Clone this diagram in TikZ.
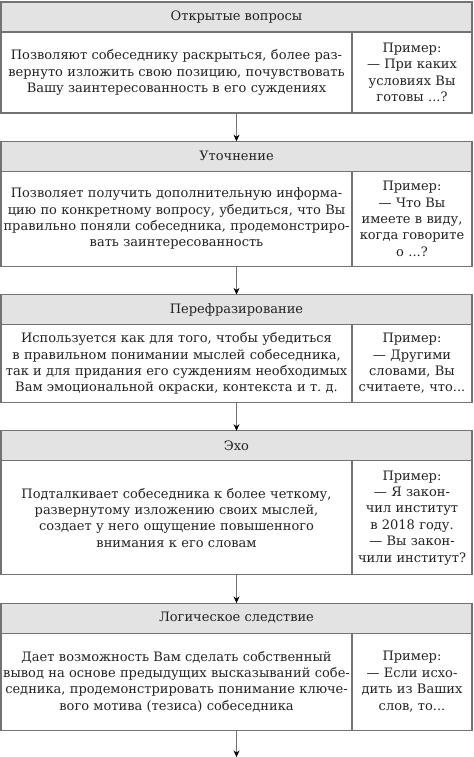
\documentclass[tikz,border=0pt]{standalone}
\usepackage{fontspec}
\setmainfont{DejaVu Serif}
\usetikzlibrary{positioning}
\usetikzlibrary{arrows.meta}
\frenchspacing

\definecolor{hdrgray}{RGB}{227,227,227}
\definecolor{linegray}{RGB}{115,115,115}
\definecolor{txtgray}{RGB}{35,35,35}

\tikzset{
  hdr/.style={draw=linegray,fill=hdrgray,line width=0.8pt,minimum width=353.25pt,minimum height=22.5pt,inner sep=0pt,outer sep=0pt,text=txtgray,font=\fontsize{9.75}{12.3}\selectfont},
  txt/.style={draw=linegray,line width=0.8pt,text width=263.25pt,inner sep=0pt,outer sep=0pt,align=center,text=txtgray,font=\fontsize{9.75}{12.3}\selectfont},
  ex/.style={draw=linegray,line width=0.8pt,text width=90pt,inner sep=0pt,outer sep=0pt,align=center,text=txtgray,font=\fontsize{9.75}{12.3}\selectfont},
  arr/.style={draw=linegray,line width=0.6pt,-{Stealth[length=5pt,width=4.5pt,black]}}
}

\begin{document}
\begin{tikzpicture}
\useasboundingbox[fill=white] (0,0) rectangle (355.5pt,-567.75pt);

\node[hdr,anchor=north west] (hdr1) at (0.75pt,-1.5pt) {Открытые вопросы};
\node[txt,minimum height=60.75pt,below right=0pt and 0pt of hdr1.south west] (txt1) {Позволяют собеседнику раскрыться, более раз-\\вернуто изложить свою позицию, почувствовать\\Вашу заинтересованность в его суждениях};
\node[ex,minimum height=60.75pt,right=0pt of txt1] (ex1) {Пример:\\— При каких\\условиях Вы\\готовы ...?};

\node[hdr,below right=21.2pt and 0pt of txt1.south west] (hdr2) {Уточнение};
\node[txt,minimum height=71.25pt,below right=0pt and 0pt of hdr2.south west] (txt2) {Позволяет получить дополнительную информа-\\цию по конкретному вопросу, убедиться, что Вы\\правильно поняли собеседника, продемонстриро-\\вать заинтересованность};
\node[ex,minimum height=71.25pt,right=0pt of txt2] (ex2) {Пример:\\— Что Вы\\имеете в виду,\\когда говорите\\о ...?};

\node[hdr,below right=21.2pt and 0pt of txt2.south west] (hdr3) {Перефразирование};
\node[txt,minimum height=58.5pt,below right=0pt and 0pt of hdr3.south west] (txt3) {Используется как для того, чтобы убедиться\\в правильном понимании мыслей собеседника,\\так и для придания его суждениям необходимых\\Вам эмоциональной окраски, контекста и т. д.};
\node[ex,minimum height=58.5pt,right=0pt of txt3] (ex3) {Пример:\\— Другими\\словами, Вы\\считаете, что...};

\node[hdr,below right=21.2pt and 0pt of txt3.south west] (hdr4) {Эхо};
\node[txt,minimum height=85.5pt,below right=0pt and 0pt of hdr4.south west] (txt4) {Подталкивает собеседника к более четкому,\\развернутому изложению своих мыслей,\\создает у него ощущение повышенного\\внимания к его словам};
\node[ex,minimum height=85.5pt,right=0pt of txt4] (ex4) {Пример:\\— Я закон-\\чил институт\\в 2018 году.\\— Вы закон-\\чили институт?};

\node[hdr,below right=21.2pt and 0pt of txt4.south west] (hdr5) {Логическое следствие};
\node[txt,minimum height=72.75pt,below right=0pt and 0pt of hdr5.south west] (txt5) {Дает возможность Вам сделать собственный\\вывод на основе предыдущих высказываний собе-\\седника, продемонстрировать понимание ключе-\\вого мотива (тезиса) собеседника};
\node[ex,minimum height=72.75pt,right=0pt of txt5] (ex5) {Пример:\\— Если исхо-\\дить из Ваших\\слов, то...};

\draw[arr] (hdr2.north |- txt1.south) -- (hdr2.north);
\draw[arr] (hdr3.north |- txt2.south) -- (hdr3.north);
\draw[arr] (hdr4.north |- txt3.south) -- (hdr4.north);
\draw[arr] (hdr5.north |- txt4.south) -- (hdr5.north);
\path (hdr5.south |- txt5.south) ++(0,-20.25pt) coordinate (end);
\draw[arr] (hdr5.south |- txt5.south) -- (end);

\end{tikzpicture}
\end{document}
